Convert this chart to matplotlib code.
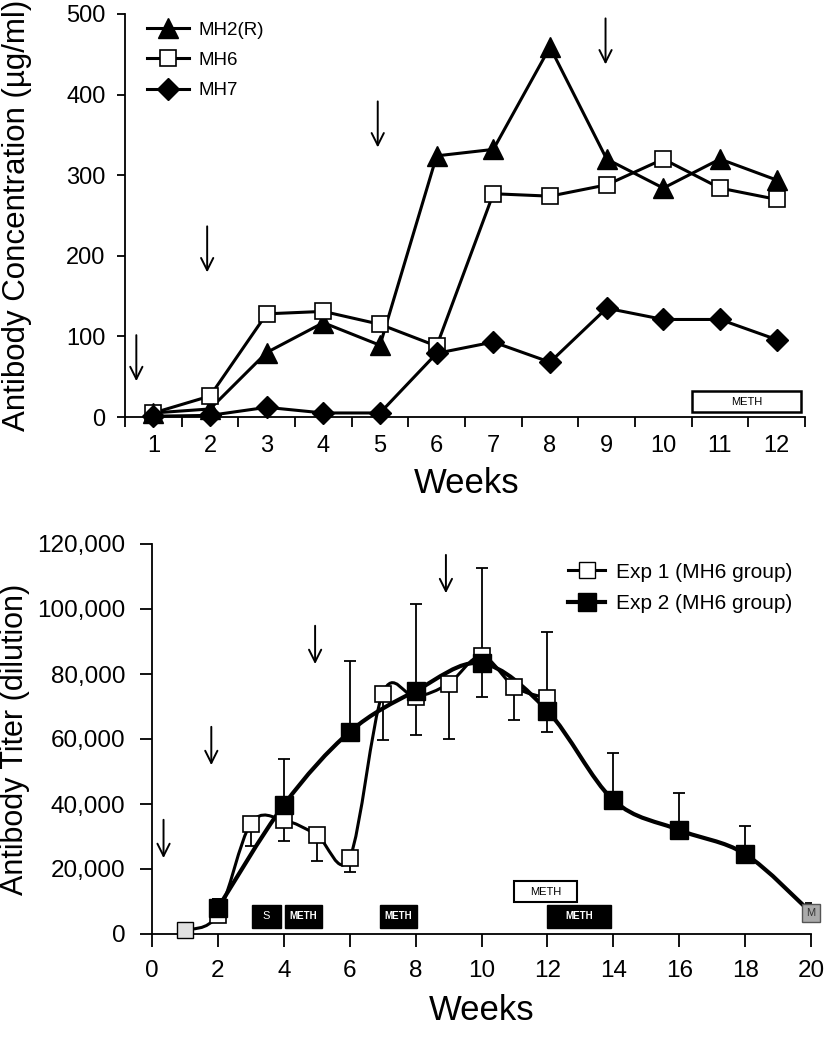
import matplotlib
matplotlib.use("Agg")
import matplotlib.pyplot as plt
from matplotlib.path import Path
from matplotlib.patches import PathPatch, Rectangle
from matplotlib.lines import Line2D
from matplotlib.ticker import FuncFormatter

plt.rcParams['font.family'] = ['Liberation Sans', 'DejaVu Sans']

# ---- top panel data (ug/ml) ----
weeks_top = [1, 2, 3, 4, 5, 6, 7, 8, 9, 10, 11, 12]
mh2 = [5, 10, 80, 117, 89, 324, 332, 459, 320, 284, 320, 294]
mh6 = [5, 26, 128, 131, 115, 88, 277, 274, 288, 320, 284, 270]
mh7 = [1, 2, 12, 5, 5, 79, 93, 68, 135, 121, 121, 96]
arrows_top = [0.7, 1.95, 4.96, 8.98]
arrow_top_y = [105, 240, 395, 498]

# ---- bottom panel data (titer) ----
weeks_exp1 = [1, 2, 3, 4, 5, 6, 7, 8, 9, 10, 11, 12]
exp1 = [1200, 6000, 34000, 35000, 30500, 23500, 74000, 73000, 77000, 85500, 76000, 72500]
exp1_lo = [0, 0, 7000, 6500, 8000, 4300, 14300, 0, 17000, 0, 10200, 0]
exp1_hi = [0, 4800, 0, 0, 0, 0, 0, 0, 0, 0, 0, 0]
weeks_exp2 = [2, 4, 6, 8, 10, 12, 14, 16, 18, 20]
exp2 = [8000, 39700, 62200, 74800, 83300, 68700, 41200, 32000, 24600, 6600]
exp2_lo = [0, 0, 0, 13600, 10300, 6500, 0, 0, 0, 0]
exp2_hi = [2800, 14100, 21800, 26700, 29300, 24200, 14500, 11400, 8600, 2900]
arrows_bot = [0.35, 1.8, 4.95, 8.92]
arrow_bot_y = [36000, 64600, 95700, 117500]


def smooth_path(xs, ys):
    # excel-like smoothed line: catmull-rom converted to cubic beziers
    pts = list(zip(xs, ys))
    verts = [pts[0]]
    codes = [Path.MOVETO]
    n = len(pts)
    for i in range(n - 1):
        p0 = pts[i - 1] if i > 0 else pts[i]
        p1 = pts[i]
        p2 = pts[i + 1]
        p3 = pts[i + 2] if i + 2 < n else pts[i + 1]
        c1 = (p1[0] + (p2[0] - p0[0]) / 6, p1[1] + (p2[1] - p0[1]) / 6)
        c2 = (p2[0] - (p3[0] - p1[0]) / 6, p2[1] - (p3[1] - p1[1]) / 6)
        verts += [c1, c2, p2]
        codes += [Path.CURVE4] * 3
    return Path(verts, codes)


fig = plt.figure(figsize=(8.25, 10.5), dpi=100)

# ================= top panel =================
ax = fig.add_axes([125 / 825, 1 - 417 / 1050, 680 / 825, 403 / 1050])
ax.plot(weeks_top, mh2, color='black', lw=2.2, marker='^', ms=15, mfc='black', clip_on=False, zorder=3, label='MH2(R)')
ax.plot(weeks_top, mh6, color='black', lw=2.2, marker='s', ms=12, mfc='white', mec='black', mew=1.2, clip_on=False, zorder=4, label='MH6')
ax.plot(weeks_top, mh7, color='black', lw=2.2, marker='D', ms=11, mfc='black', clip_on=False, zorder=5, label='MH7')

for x, y in zip(arrows_top, arrow_top_y):
    ax.annotate('', xy=(x, y - 64), xytext=(x, y),
                arrowprops=dict(arrowstyle='->', lw=1.4, color='black', mutation_scale=22))

ax.add_patch(Rectangle((10.5, 6), 1.93, 26, facecolor='white', edgecolor='black', lw=1.8, clip_on=False))
ax.text(11.465, 19, 'METH', ha='center', va='center', fontsize=8)

ax.set_xlim(0.5, 12.5)
ax.set_ylim(0, 500)
ax.set_xticks([x + 0.5 for x in range(0, 13)])
ax.set_xticklabels([])
ax.set_xticks(weeks_top, minor=True)
ax.set_xticklabels([str(w) for w in weeks_top], minor=True)
ax.tick_params(axis='x', which='major', direction='out', length=7, width=1.3)
ax.tick_params(axis='x', which='minor', length=0, labelsize=17, pad=13)
ax.set_yticks([0, 100, 200, 300, 400, 500])
ax.tick_params(axis='y', direction='out', length=6, width=1.3, labelsize=17, pad=8)
for s in ['top', 'right']:
    ax.spines[s].set_visible(False)
for s in ['left', 'bottom']:
    ax.spines[s].set_linewidth(1.3)
ax.set_ylabel('Antibody Concentration (µg/ml)', fontsize=22.5)
ax.yaxis.set_label_coords(-0.137, 0.5)
ax.set_xlabel('Weeks', fontsize=25)
ax.xaxis.set_label_coords(0.503, -0.125)
ax.legend(loc='upper left', bbox_to_anchor=(0.022, 1.0), frameon=False, fontsize=13.5,
          handlelength=2.2, handletextpad=0.5, labelspacing=0.7, borderaxespad=0)

# ================= bottom panel =================
bx = fig.add_axes([152 / 825, 1 - 934 / 1050, 659 / 825, 390 / 1050])

bx.add_patch(PathPatch(smooth_path(weeks_exp1, exp1), fill=False, lw=2.2, edgecolor='black', zorder=2))
bx.add_patch(PathPatch(smooth_path(weeks_exp2, exp2), fill=False, lw=3.0, edgecolor='black', zorder=2))

bx.errorbar(weeks_exp1, exp1, yerr=[exp1_lo, exp1_hi], fmt='none', ecolor='black', elinewidth=1.3, capsize=4, capthick=1.3, zorder=1)
bx.errorbar(weeks_exp2, exp2, yerr=[exp2_lo, exp2_hi], fmt='none', ecolor='black', elinewidth=1.3, capsize=4, capthick=1.3, zorder=1)

bx.plot(weeks_exp1[1:], exp1[1:], ls='none', marker='s', ms=12, mfc='white', mec='black', mew=1.2, zorder=4, clip_on=False)
bx.plot(weeks_exp2[:-1], exp2[:-1], ls='none', marker='s', ms=13, mfc='black', mec='black', zorder=5, clip_on=False)
bx.plot(weeks_exp1[:1], exp1[:1], ls='none', marker='s', ms=12, mfc='#e0e0e0', mec='black', mew=1.0, zorder=5, clip_on=False)
bx.plot(weeks_exp2[-1:], exp2[-1:], ls='none', marker='s', ms=13, mfc='#aaaaaa', mec='#555555', mew=1.0, zorder=5, clip_on=False)
bx.text(weeks_exp2[-1], exp2[-1], 'M', ha='center', va='center', fontsize=8, color='#333333', zorder=6)

for x, y in zip(arrows_bot, arrow_bot_y):
    bx.annotate('', xy=(x, y - 13500), xytext=(x, y),
                arrowprops=dict(arrowstyle='->', lw=1.4, color='black', mutation_scale=22))

# treatment bars
bx.add_patch(Rectangle((3.03, 1900), 0.87, 7100, facecolor='black', edgecolor='black'))
bx.text(3.465, 5450, 'S', color='white', ha='center', va='center', fontsize=8)
for x0, x1 in [(4.04, 5.16), (6.92, 8.04), (12.0, 13.92)]:
    bx.add_patch(Rectangle((x0, 1900), x1 - x0, 7100, facecolor='black', edgecolor='black'))
    bx.text((x0 + x1) / 2, 5450, 'METH', color='white', ha='center', va='center', fontsize=7, fontweight='bold')
bx.add_patch(Rectangle((11.0, 9800), 1.9, 6500, facecolor='white', edgecolor='black', lw=1.5))
bx.text(11.95, 13050, 'METH', ha='center', va='center', fontsize=8)

bx.set_xlim(0, 20)
bx.set_ylim(0, 120000)
bx.set_xticks(range(0, 21, 2))
bx.set_yticks(range(0, 120001, 20000))
bx.yaxis.set_major_formatter(FuncFormatter(lambda v, p: f'{int(v):,}'))
bx.tick_params(direction='out', length=9, width=1.3, labelsize=17.5)
bx.tick_params(axis='y', pad=10)
bx.tick_params(axis='x', pad=10)
for s in ['top', 'right']:
    bx.spines[s].set_visible(False)
for s in ['left', 'bottom']:
    bx.spines[s].set_linewidth(1.3)
bx.set_ylabel('Antibody Titer (dilution)', fontsize=22)
bx.yaxis.set_label_coords(-0.185, 0.5)
bx.set_xlabel('Weeks', fontsize=25)
bx.xaxis.set_label_coords(0.5, -0.155)

h1 = Line2D([], [], color='black', lw=2.2, marker='s', ms=12, mfc='white', mec='black')
h2 = Line2D([], [], color='black', lw=3.0, marker='s', ms=13, mfc='black')
bx.legend([h1, h2], ['Exp 1 (MH6 group)', 'Exp 2 (MH6 group)'], loc='upper right',
          bbox_to_anchor=(1.0, 1.0), frameon=False, fontsize=15, handlelength=1.8,
          handletextpad=0.5, labelspacing=0.6)

fig.savefig('out.png', dpi=100)
